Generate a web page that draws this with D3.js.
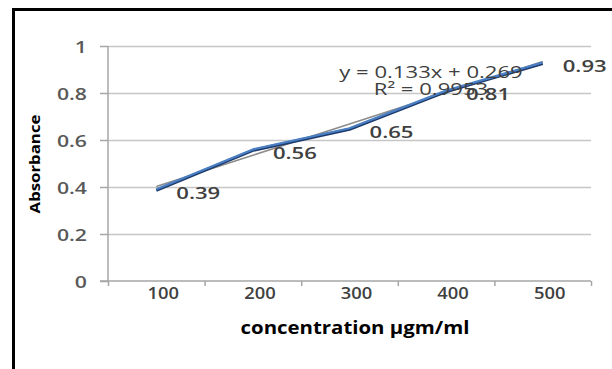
<!DOCTYPE html>
<html>
<head>
<meta charset="utf-8">
<script src="https://cdn.jsdelivr.net/npm/d3@7"></script>
<style>
html,body{margin:0;padding:0;background:#fff;}
svg{display:block;}
</style>
</head>
<body>
<svg id="chart" width="612" height="369"></svg>
<script>
// ---- data ----
const categories = ["100", "200", "300", "400", "500"];
const absorbance = [0.39, 0.56, 0.65, 0.81, 0.93];
const dataLabels = ["0.39", "0.56", "0.65", "0.81", "0.93"];
const yTicks = [0, 0.2, 0.4, 0.6, 0.8, 1];
const yTickLabels = ["0", "0.2", "0.4", "0.6", "0.8", "1"];
const trendSlope = 0.133;
const trendIntercept = 0.269;
const trendEquation = ["y = 0.133x + 0.269", "R² = 0.9953"];
const xTitle = "concentration µgm/ml";
const yTitle = "Absorbance";

// ---- layout ----
const svg = d3.select("#chart");
const plot = {left: 108, right: 591, top: 46, bottom: 281};

const x = d3.scaleBand().domain(categories).range([plot.left, plot.right]).padding(0);
const y = d3.scaleLinear().domain([0, 1]).range([plot.bottom, plot.top]);
const cx = c => x(c) + x.bandwidth() / 2;

const FONT = "'Open Sans', 'DejaVu Sans', sans-serif";

function stext(g, px, py, str, opts) {
  const sx = opts.sx || 1.2;
  const rot = opts.rotate ? ` rotate(${opts.rotate})` : "";
  return g.append("text")
    .attr("transform", `translate(${px},${py})${rot} scale(${sx},1)`)
    .attr("x", 0).attr("y", 0)
    .attr("dominant-baseline", "central")
    .attr("text-anchor", opts.anchor || "start")
    .attr("font-family", FONT)
    .attr("font-size", opts.size || 16)
    .attr("font-weight", opts.weight || 400)
    .attr("fill", opts.fill || "#404040")
    .text(str);
}

// outer frame
svg.append("rect")
  .attr("x", 13.5).attr("y", 9.5).attr("width", 700).attr("height", 500)
  .attr("fill", "none").attr("stroke", "#000").attr("stroke-width", 3);

// gridlines via axis
const yGrid = d3.axisLeft(y).tickValues(yTicks.slice(1)).tickSize(-(plot.right - plot.left)).tickFormat("");
svg.append("g").attr("transform", `translate(${plot.left},0)`).call(yGrid)
  .call(g => g.select(".domain").remove())
  .call(g => g.selectAll("line").attr("stroke", "#c6c6c6").attr("stroke-width", 1.5));

// y axis line + ticks
const yAxis = d3.axisLeft(y).tickValues(yTicks).tickSize(8).tickFormat("");
svg.append("g").attr("transform", `translate(${plot.left},0)`).call(yAxis)
  .call(g => g.select(".domain").attr("stroke", "#a6a6a6").attr("stroke-width", 1.5).attr("d", `M0,${plot.top}V${plot.bottom}`))
  .call(g => g.selectAll("line").attr("stroke", "#a6a6a6").attr("stroke-width", 1.5));

// x axis line + ticks at band edges
const edges = categories.map(c => x(c)).concat([plot.right]);
const xEdge = d3.scaleLinear().domain([plot.left, plot.right]).range([plot.left, plot.right]);
const xAxis = d3.axisBottom(xEdge).tickValues(edges).tickSize(5).tickFormat("").tickSizeOuter(0);
svg.append("g").attr("transform", `translate(0,${plot.bottom})`).call(xAxis)
  .call(g => g.select(".domain").attr("stroke", "#a6a6a6").attr("stroke-width", 1.5).attr("d", `M${plot.left - 8},0H${plot.right}`))
  .call(g => g.selectAll("line").attr("stroke", "#a6a6a6").attr("stroke-width", 1.5));

// y tick labels
const gy = svg.append("g");
yTicks.forEach((v, i) => stext(gy, 87, y(v), yTickLabels[i], {anchor: "end", size: 17, weight: 600, fill: "#595959", sx: 1.25}));

// x tick labels
const gx = svg.append("g");
categories.forEach(c => stext(gx, cx(c) + 7, 292, c, {anchor: "middle", size: 17, weight: 600, fill: "#404040", sx: 1.08}));

// trendline
const trendPts = categories.map((c, i) => [cx(c), y(trendSlope * (i + 1) + trendIntercept)]);
svg.append("path").attr("d", d3.line()(trendPts))
  .attr("fill", "none").attr("stroke", "#8c8c8c").attr("stroke-width", 1.6);

// data line (shadow + line)
const line = d3.line().x((d, i) => cx(categories[i])).y(d => y(d));
svg.append("path").datum(absorbance).attr("d", line)
  .attr("transform", "translate(0,1)")
  .attr("fill", "none").attr("stroke", "#1c3a6b").attr("stroke-width", 3).attr("stroke-linejoin", "round");
svg.append("path").datum(absorbance).attr("d", line)
  .attr("fill", "none").attr("stroke", "#4a7fc4").attr("stroke-width", 2.2).attr("stroke-linejoin", "round");

// data labels
const gl = svg.append("g");
absorbance.forEach((v, i) => stext(gl, cx(categories[i]) + 20, y(v) + 3, dataLabels[i], {size: 17, weight: 600, fill: "#404040", sx: 1.3}));

// trend equation
const ge = svg.append("g");
stext(ge, 431, 72, trendEquation[0], {anchor: "middle", size: 17, weight: 400, fill: "#404040", sx: 1.3});
stext(ge, 431, 89, trendEquation[1], {anchor: "middle", size: 17, weight: 400, fill: "#404040", sx: 1.3});

// axis titles
stext(svg, 34, 164, yTitle, {anchor: "middle", size: 15, weight: 700, fill: "#000", sx: 1.12, rotate: -90});
stext(svg, 355, 327, xTitle, {anchor: "middle", size: 17, weight: 700, fill: "#000", sx: 1.2});
</script>
</body>
</html>
